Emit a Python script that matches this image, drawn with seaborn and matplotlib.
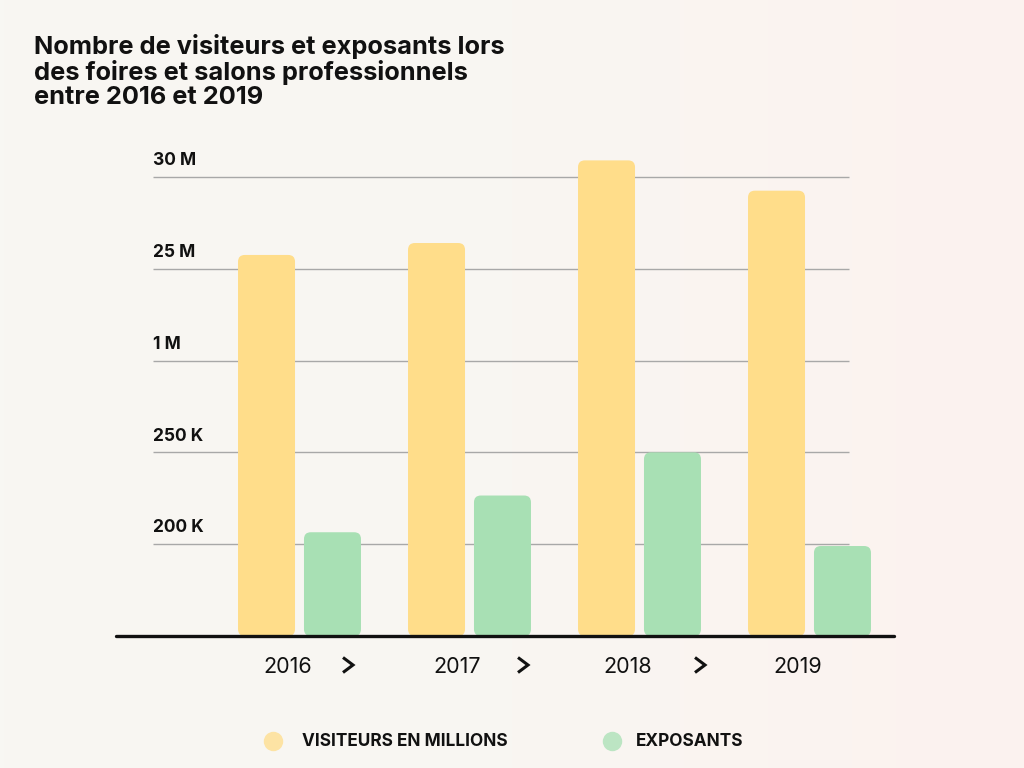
import numpy as np
import pandas as pd
import matplotlib
matplotlib.use("Agg")
import matplotlib.pyplot as plt
import seaborn as sns
from matplotlib.patches import FancyBboxPatch
from matplotlib.lines import Line2D

# data (heights are read on the chart's own step scale: one step per gridline)
years = ["2016", "2017", "2018", "2019"]
visiteurs = [4.15, 4.28, 5.18, 4.85]
exposants = [1.13, 1.53, 2.00, 0.98]
tick_labels = ["200 K", "250 K", "1 M", "25 M", "30 M"]
series_names = ["VISITEURS EN MILLIONS", "EXPOSANTS"]
colors = ["#FFDD8A", "#A8E0B4"]

df = pd.DataFrame({
    "annee": years * 2,
    "valeur": visiteurs + exposants,
    "serie": [series_names[0]] * 4 + [series_names[1]] * 4,
})

sns.set_theme(style="white")
plt.rcParams["font.family"] = ["Inter", "DejaVu Sans"]

fig = plt.figure(figsize=(10.24, 7.68), dpi=100)

# soft background gradient
bg = fig.add_axes([0, 0, 1, 1], zorder=-10)
grad = np.linspace(0, 1, 256).reshape(1, -1)
bg_cmap = matplotlib.colors.LinearSegmentedColormap.from_list("bg", ["#F8F7F3", "#F9F6F2", "#FCF2EF"])
bg.imshow(grad, aspect="auto", cmap=bg_cmap, extent=[0, 1, 0, 1])
bg.axis("off")

W, H = 1024, 768
ax = fig.add_axes([116 / W, (H - 636) / H, (894 - 116) / W, (636 - 131) / H])
ax.patch.set_alpha(0)

sns.barplot(data=df, x="annee", y="valeur", hue="serie", palette=colors,
            width=0.776, gap=0.136, ax=ax, legend=False, saturation=1, zorder=3)

ax.set_xlim((116 - 299.5) / 170, (894 - 299.5) / 170)
ax.set_ylim(0, 5.5)

# rounded bars
for p in list(ax.patches):
    x, y = p.get_x(), p.get_y()
    w, h = p.get_width(), p.get_height()
    fc = p.get_facecolor()
    p.remove()
    ax.add_patch(FancyBboxPatch((x, y), w, h,
                                boxstyle="round,pad=0,rounding_size=0.04",
                                mutation_aspect=1.85, fc=fc, ec="none", zorder=3))

# gridlines and y labels
gx0, gx1 = (153 - 299.5) / 170, (849 - 299.5) / 170
for i, lab in enumerate(tick_labels, start=1):
    ax.hlines(i, gx0, gx1, color="#A8A8A8", lw=1.0, zorder=1)
    ax.text(gx0, i + 0.085, lab, ha="left", va="bottom", fontsize=12.5,
            fontweight="bold", color="#111111")

ax.axhline(0, color="#111111", lw=2.4, zorder=4, clip_on=False)

for s in ax.spines.values():
    s.set_visible(False)
ax.set_xticks([])
ax.set_yticks([])
ax.set_xlabel("")
ax.set_ylabel("")

# year labels and chevrons
for i, yr in enumerate(years):
    ax.text(i - 0.07, -0.34, yr, ha="center", va="center", fontsize=15.5,
            color="#111111", transform=ax.transData, clip_on=False)
chevron_x = [348, 523, 700]
for cx in chevron_x:
    cy = 665
    xs = [(cx - 5) / W, (cx + 5) / W, (cx - 5) / W]
    ys = [(H - cy + 7.5) / H, (H - cy) / H, (H - cy - 7.5) / H]
    fig.add_artist(Line2D(xs, ys, color="#111111", lw=2.2,
                          solid_joinstyle="miter", solid_capstyle="butt"))

# legend
leg_items = [(273, 302, series_names[0], colors[0]), (612, 636, series_names[1], colors[1])]
for mx, tx, name, c in leg_items:
    fig.add_artist(Line2D([mx / W], [(H - 741) / H], marker="o", markersize=14,
                          color=c, alpha=0.75, lw=0, markeredgewidth=0))
    fig.text(tx / W, (H - 741) / H, name, ha="left", va="center", fontsize=12.4,
             fontweight="bold", color="#111111")

# title
fig.text(34 / W, (H - 34) / H,
         "Nombre de visiteurs et exposants lors\ndes foires et salons professionnels\nentre 2016 et 2019",
         ha="left", va="top", fontsize=18.3, fontweight="bold", color="#111111",
         linespacing=1.04)

fig.savefig("out.png", dpi=100)
